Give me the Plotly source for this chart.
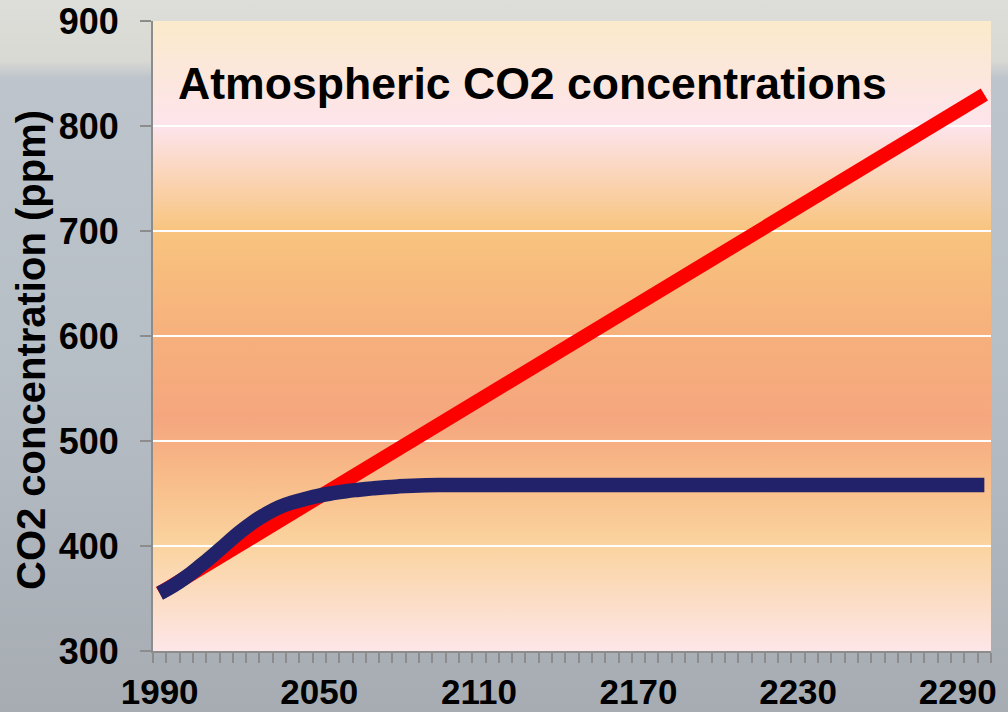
import base64
import plotly.graph_objects as go

years = list(range(1990, 2301, 5))

stabilised_ppm = [355, 362, 370.5, 380.5, 391, 402, 413, 422.5, 430.5, 437,
                  441.5, 445, 448, 450.3, 452.2, 453.6, 454.9, 456, 456.8, 457.4,
                  457.8, 458, 458, 458, 458, 458, 458, 458, 458, 458,
                  458, 458, 458, 458, 458, 458, 458, 458, 458, 458,
                  458, 458, 458, 458, 458, 458, 458, 458, 458, 458,
                  458, 458, 458, 458, 458, 458, 458, 458, 458, 458,
                  458, 458, 458]

business_as_usual_ppm = [355.0, 362.7, 370.3, 378.0, 385.6, 393.3, 401.0, 408.6, 416.3, 423.9,
                         431.6, 439.3, 446.9, 454.6, 462.2, 469.9, 477.6, 485.2, 492.9, 500.5,
                         508.2, 515.9, 523.5, 531.2, 538.8, 546.5, 554.2, 561.8, 569.5, 577.1,
                         584.8, 592.5, 600.1, 607.8, 615.4, 623.1, 630.8, 638.4, 646.1, 653.7,
                         661.4, 669.1, 676.7, 684.4, 692.0, 699.7, 707.4, 715.0, 722.7, 730.3,
                         738.0, 745.7, 753.3, 761.0, 768.6, 776.3, 784.0, 791.6, 799.3, 806.9,
                         814.6, 822.3, 829.9]

x_tick_labels = [1990, 2050, 2110, 2170, 2230, 2290]
y_tick_labels = [300, 400, 500, 600, 700, 800, 900]

title_text = "Atmospheric CO2 concentrations"
y_title_text = "CO2 concentration (ppm)"

W, H = 1008, 712
ML, MR, MT, MB = 153, 17, 21, 61
PW, PH = W - ML - MR, H - MT - MB


def svg_uri(stops):
    st = "".join(f'<stop offset="{o}" stop-color="{c}"/>' for o, c in stops)
    svg = ('<svg xmlns="http://www.w3.org/2000/svg" width="100" height="100" preserveAspectRatio="none">'
           '<defs><linearGradient id="g" x1="0" y1="0" x2="0" y2="1">' + st +
           '</linearGradient></defs><rect width="100" height="100" fill="url(#g)"/></svg>')
    return "data:image/svg+xml;base64," + base64.b64encode(svg.encode()).decode()


page_bg = svg_uri([(0, "#DDDED9"), (0.085, "#D9D9D3"), (0.11, "#BDC4CB"),
                   (0.5, "#B7BFC6"), (0.8, "#ADB3BA"), (1, "#A7ACB3")])
plot_bg = svg_uri([(0, "#FBEACB"), (0.167, "#FDE4EC"), (0.333, "#F8C47E"),
                   (0.5, "#F6B07C"), (0.63, "#F5A67E"), (0.73, "#F8BD8A"),
                   (0.83, "#FAD39E"), (1, "#FDE6E8")])

fig = go.Figure()
fig.add_trace(go.Scatter(x=years, y=business_as_usual_ppm, mode="lines",
                         line=dict(color="#FF0000", width=14), showlegend=False))
fig.add_trace(go.Scatter(x=years, y=stabilised_ppm, mode="lines",
                         line=dict(color="#22226A", width=14.5, shape="spline", smoothing=1.3),
                         showlegend=False))

font_family = "Liberation Sans, Arial, sans-serif"

fig.update_layout(
    width=W, height=H,
    margin=dict(l=ML, r=MR, t=MT, b=MB, pad=0, autoexpand=False),
    paper_bgcolor="#B5BCC3",
    plot_bgcolor="rgba(0,0,0,0)",
    font=dict(family=font_family, color="#000000"),
    images=[
        dict(source=page_bg, xref="paper", yref="paper",
             x=-ML / PW, y=1 + MT / PH, sizex=W / PW, sizey=H / PH,
             sizing="stretch", layer="below", xanchor="left", yanchor="top"),
        dict(source=plot_bg, xref="paper", yref="paper",
             x=0, y=1, sizex=1, sizey=1,
             sizing="stretch", layer="below", xanchor="left", yanchor="top"),
    ],
    xaxis=dict(
        range=[1987.5, 2302.5],
        automargin=False,
        tickvals=x_tick_labels,
        ticktext=[f"<b>{v}</b>" for v in x_tick_labels],
        ticks="", ticklen=0,
        tickfont=dict(size=35, family=font_family),
        ticklabelstandoff=9,
        showgrid=False, zeroline=False,
        showline=True, linecolor="#8C8C8C", linewidth=2,
        minor=dict(ticks="outside", ticklen=10, tickwidth=2, tickcolor="#8C8C8C",
                   tick0=1987.5, dtick=5, showgrid=False),
    ),
    yaxis=dict(
        range=[300, 900],
        automargin=False,
        tickvals=y_tick_labels,
        ticktext=[f"<b>{v}</b>" for v in y_tick_labels],
        ticks="outside", ticklen=11, tickwidth=2, tickcolor="#8C8C8C",
        tickfont=dict(size=36, family=font_family),
        ticklabelstandoff=14,
        showgrid=True, gridcolor="#FFFFFF", gridwidth=2,
        zeroline=False,
        showline=True, linecolor="#8C8C8C", linewidth=2,
    ),
    annotations=[
        dict(text=f"<b>{title_text}</b>", xref="paper", yref="paper",
             x=(176 - ML) / PW, y=1 - (84 - MT) / PH, xanchor="left", yanchor="middle",
             showarrow=False, font=dict(size=44.6, family=font_family, color="#000000")),
        dict(text=f"<b>{y_title_text}</b>", xref="paper", yref="paper",
             x=(31 - ML) / PW, y=1 - (350 - MT) / PH, xanchor="center", yanchor="middle",
             textangle=-90, showarrow=False,
             font=dict(size=40, family=font_family, color="#000000")),
    ],
)

fig.write_html("out.html", config={"displayModeBar": False},
               post_script="document.body.style.margin='0';")
